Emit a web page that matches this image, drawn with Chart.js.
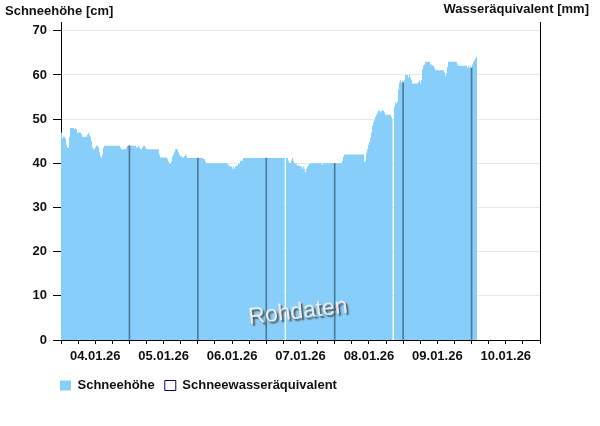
<!DOCTYPE html>
<html><head><meta charset="utf-8">
<script src="https://cdn.jsdelivr.net/npm/chart.js@4"></script>
<style>html,body{margin:0;padding:0;background:#fff}</style>
</head><body>
<canvas id="c" width="600" height="426"></canvas>
<script>
// x axis: hours since 04.01.26 00:00
const dayLabels = ['04.01.26','05.01.26','06.01.26','07.01.26','08.01.26','09.01.26','10.01.26'];
const hours = [
  0,0.35,0.7,1.4,1.75,2.1,2.8,3.15,4.55,4.9,5.25,5.6,7.0,7.35,9.1,9.45,9.8,10.15,10.5,10.85,11.2,11.9,12.25,13.0,13.35,13.7,14.05,14.4,14.75,15.1,
  20.7,21.05,22.8,23.15,26.3,27.0,27.35,27.7,28.4,28.75,29.45,29.8,34.35,34.7,37.2,37.55,37.9,38.6,38.95,39.3,39.65,40.0,41.05,41.4,41.75,42.45,43.15,43.5,43.85,44.2,
  49.8,50.5,50.85,58.6,59.3,60.0,60.35,60.7,61.05,61.4,62.1,62.8,63.85,78.5,78.7,
  78.9,79.6,79.95,80.65,81.0,81.35,81.7,82.05,82.75,83.8,84.5,84.85,85.2,85.55,85.9,86.3,86.65,87.0,87.7,91.55,91.9,
  98.55,98.9,99.25,106.3,106.65,107.0,107.35,107.7,108.05,108.4,108.75,109.1,109.45,109.8,110.15,110.5,110.85,111.2,111.9,112.25,113.3,113.65,115.75,116.1,116.35,116.45,
  116.8,117.15,117.5,117.85,118.2,118.55,118.9,119.26,119.61,119.96,120.31,120.66,121.7,122.06,122.41,122.76,123.11,125.22,125.57,125.92,126.27,
  126.62,126.97,127.32,127.67,129.43,130.13,130.83,131.18,134.34,134.69,135.04,135.39,135.74,138.9,139.25,142.41,142.76,143.11,143.46,143.81,144.16,144.51,144.86,145.21,145.57,145.92
];
const snowDepth = [
  47.0,45.7,46.0,45.5,44.2,43.6,46.0,48.0,47.7,48.0,47.7,47.0,46.6,46.0,46.5,47.0,46.5,46.0,45.0,43.6,43.2,43.6,44.0,43.6,42.5,41.6,41.3,42.0,43.6,44.0,
  43.6,43.2,43.6,44.0,43.6,44.0,43.6,43.2,43.6,44.0,43.6,43.2,42.0,41.3,40.9,40.4,40.0,40.4,41.6,42.0,42.5,43.2,42.5,42.0,41.6,41.3,41.6,42.0,41.6,41.2,
  41.0,40.5,40.0,39.5,39.3,38.8,39.3,38.8,39.3,39.5,39.9,40.6,41.2,41.2,null,
  41.2,40.6,40.1,40.6,41.2,40.6,40.1,39.9,39.5,39.3,38.8,39.3,38.8,38.0,38.8,39.3,39.5,39.9,40.0,39.6,40.0,
  40.6,41.5,42.0,40.3,40.6,42.4,43.3,44.2,44.9,45.8,47.0,48.5,49.3,49.8,50.5,51.0,51.5,51.9,51.5,51.9,51.5,51.0,50.5,50.0,50.0,null,
  52.8,53.8,53.5,54.0,56.8,58.3,58.8,58.3,58.8,58.3,58.8,60.0,59.4,60.0,59.4,58.8,58.1,58.5,58.8,58.1,58.8,
  61.3,62.1,62.4,63.0,62.4,62.1,61.6,61.1,60.6,59.8,60.4,61.8,63.0,62.4,62.1,61.6,62.1,61.6,62.1,61.6,62.4,63.0,63.3,63.8,64.1,64.1
];
const sweValues = [];
const midnightHours = [24,48,72,96,120,144];
const yTicksMax = 72;

function depthAt(h){
  let v = null;
  for (let i=0;i<hours.length;i++){ if (hours[i] <= h && snowDepth[i] !== null) v = snowDepth[i]; else if (hours[i] > h) break; }
  return v;
}

const FONT = "'Liberation Sans', Arial, sans-serif";
Chart.defaults.font.family = FONT;
Chart.defaults.font.size = 13;
Chart.defaults.font.weight = 'bold';
Chart.defaults.color = '#111';

const decor = {
  id: 'decor',
  beforeDraw(chart){
    if (chart.legend) chart.legend.left = 50;
  },
  afterDraw(chart){
    const ctx = chart.ctx;
    ctx.save();
    ctx.font = "bold 13px " + FONT;
    ctx.fillStyle = '#111';
    ctx.textBaseline = 'alphabetic';
    ctx.textAlign = 'left';
    ctx.fillText('Schneehöhe [cm]', 5, 14.5);
    ctx.textAlign = 'right';
    ctx.fillText('Wasseräquivalent [mm]', 589, 12.5);
    // watermark
    ctx.translate(298, 312);
    ctx.rotate(-6.5 * Math.PI / 180);
    ctx.font = "23px " + FONT;
    ctx.textAlign = 'center';
    ctx.textBaseline = 'middle';
    ctx.shadowColor = 'rgba(70,70,70,0.9)';
    ctx.shadowOffsetX = 2;
    ctx.shadowOffsetY = 2;
    ctx.shadowBlur = 1.5;
    ctx.fillStyle = '#ececec';
    ctx.fillText('Rohdaten', 0, 0);
    ctx.restore();
  }
};

new Chart(document.getElementById('c'), {
  type: 'line',
  data: {
    datasets: [
      {
        type: 'bar',
        label: '',
        data: midnightHours.map(h => ({x: h, y: depthAt(h)})),
        backgroundColor: '#4d7b9b',
        borderWidth: 0,
        barThickness: 1,
        grouped: false,
        order: 0,
        yAxisID: 'y'
      },
      {
        label: 'Schneehöhe',
        data: hours.map((h, i) => ({x: h, y: snowDepth[i]})),
        stepped: true,
        fill: 'origin',
        backgroundColor: '#87CEFA',
        borderColor: 'rgba(0,0,0,0)',
        borderWidth: 0,
        pointRadius: 0,
        spanGaps: false,
        order: 1,
        yAxisID: 'y'
      },
      {
        label: 'Schneewasseräquivalent',
        data: sweValues,
        backgroundColor: '#ffffff',
        borderColor: '#000080',
        borderWidth: 1,
        pointRadius: 0,
        order: 2,
        yAxisID: 'y2'
      }
    ]
  },
  options: {
    responsive: false,
    animation: false,
    layout: {padding: {left: 0, right: 0, top: 22, bottom: 24}},
    scales: {
      x: {
        type: 'linear',
        min: 0, max: 168,
        offset: false,
        afterFit(s){ s.height = 29; },
        grid: {drawOnChartArea: false, tickLength: 4, tickColor: '#000', offset: false},
        border: {display: true, color: '#000', width: 1},
        ticks: {
          stepSize: 6, autoSkip: false, maxRotation: 0, minRotation: 0, padding: 5,
          callback: (v) => (v % 24 === 12 ? dayLabels[(v - 12) / 24] : '')
        }
      },
      y: {
        type: 'linear', position: 'left',
        min: 0, max: yTicksMax,
        afterFit(s){ s.width = 61; },
        grid: {color: '#e8e8e8', tickColor: '#000', tickLength: 8},
        border: {display: true, color: '#000', width: 1},
        ticks: {stepSize: 10, includeBounds: false, padding: 6}
      },
      y2: {
        type: 'linear', position: 'right',
        min: 0, max: 1,
        afterFit(s){ s.width = 60; },
        grid: {display: false, drawOnChartArea: false},
        border: {display: true, color: '#000', width: 1},
        ticks: {display: false}
      }
    },
    plugins: {
      legend: {
        position: 'bottom',
        align: 'start',
        labels: {
          boxWidth: 11, boxHeight: 10, padding: 10,
          font: {size: 13, weight: 'bold'},
          color: '#111',
          filter: (item) => item.text !== ''
        }
      },
      tooltip: {enabled: false}
    }
  },
  plugins: [decor]
});
</script>
</body></html>
